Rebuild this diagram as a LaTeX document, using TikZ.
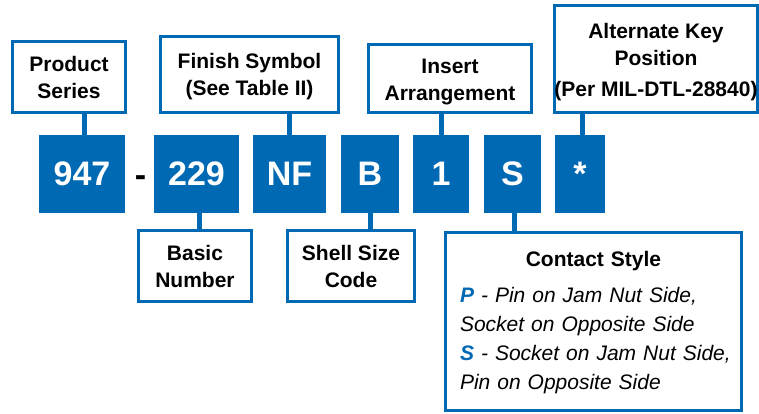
\documentclass[tikz,border=0pt]{standalone}
\usepackage{fontspec}
\setmainfont{Liberation Sans}
\definecolor{brandblue}{RGB}{0,105,180}
\newcommand{\lowerby}[2]{\raisebox{0pt}[\dimexpr 15.3pt+#1\relax][0pt]{#2}}
\begin{document}
\begin{tikzpicture}[x=1pt,y=-1pt,
  labelbox/.style={draw=brandblue, line width=3pt, fill=white, inner sep=0pt, align=center,
    font=\fontsize{21}{27}\selectfont\bfseries},
  codebox/.style={fill=brandblue, text=white, inner sep=0pt, minimum height=78pt,
    font=\fontsize{34}{40}\selectfont\bfseries},
  link/.style={draw=brandblue, line width=5pt}]
\useasboundingbox (0,0) rectangle (759,413);

% code boxes
\node[codebox, minimum width=86pt] (c947) at (82,174) {947};
\node[font=\fontsize{34}{40}\selectfont\bfseries, inner sep=0pt, anchor=base] (dash) at (140.5,186.5) {-};
\node[codebox, minimum width=85pt] (c229) at (196.5,174) {229};
\node[codebox, minimum width=73pt] (cnf) at (289.5,174) {NF};
\node[codebox, minimum width=58pt] (cb) at (370,174) {B};
\node[codebox, minimum width=56pt] (c1) at (441,174) {1};
\node[codebox, minimum width=57pt] (cs) at (512.5,174) {S};
\node[codebox, minimum width=50pt] (cst) at (580,174) {*};

% top labels
\node[labelbox, minimum width=113pt, minimum height=71pt] (ps) at (69,77) {Product\\Series};
\node[labelbox, minimum width=178pt, minimum height=76pt] (fs) at (249.5,74.5) {\lowerby{4pt}{Finish Symbol}\\(See Table II)};
\node[labelbox, minimum width=163pt, minimum height=68pt] (ia) at (450,78.5) {\lowerby{6pt}{Insert}\\Arrangement};
\node[labelbox, minimum width=203pt, minimum height=107pt] (ak) at (656,59) {\lowerby{6pt}{Alternate Key}\\Position\\[4pt](Per MIL-DTL-28840)};

% bottom labels
\node[labelbox, minimum width=113pt, minimum height=71pt] (bn) at (195,266) {Basic\\Number};
\node[labelbox, minimum width=127pt, minimum height=71pt] (ss) at (351,266) {Shell Size\\Code};
\node[draw=brandblue, line width=3pt, fill=white, minimum width=296pt, minimum height=178pt,
  inner xsep=14.5pt, inner ysep=0pt, text width=267pt, align=left,
  font=\fontsize{21}{29}\selectfont] (ct) at (593.5,321.5)
  {{\centering\bfseries\lowerby{2pt}{Contact Style}\par}\vspace{7pt}%
   {\itshape
   \mbox{\textcolor{brandblue}{\bfseries P} - Pin on Jam Nut Side,}\par
   \mbox{Socket on Opposite Side}\par
   \mbox{\textcolor{brandblue}{\bfseries S} - Socket on Jam Nut Side,}\par
   \mbox{Pin on Opposite Side}\par}};

% connectors
\draw[link] ([xshift=2pt]c947.north) -- ([xshift=2pt]c947.north |- ps.south);
\draw[link] (cnf.north) -- (cnf.north |- fs.south);
\draw[link] (c1.north) -- (c1.north |- ia.south);
\draw[link] ([xshift=2.5pt]cst.north) -- ([xshift=2.5pt]cst.north |- ak.south);
\draw[link] ([xshift=2.5pt]c229.south) -- ([xshift=2.5pt]c229.south |- bn.north);
\draw[link] (cb.south) -- (cb.south |- ss.north);
\draw[link] ([xshift=1.5pt]cs.south) -- ([xshift=1.5pt]cs.south |- ct.north);
\end{tikzpicture}
\end{document}
